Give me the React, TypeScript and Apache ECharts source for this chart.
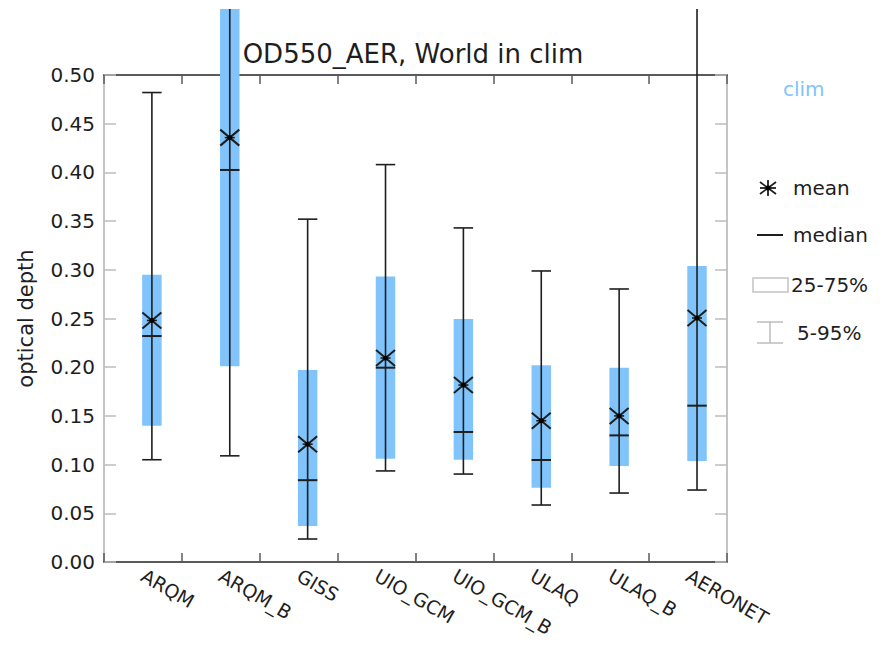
import React, { useEffect, useRef } from "react";
import * as echarts from "echarts";

const categories = ["ARQM", "ARQM_B", "GISS", "UIO_GCM", "UIO_GCM_B", "ULAQ", "ULAQ_B", "AERONET"];
const p5 = [0.105, 0.109, 0.0236, 0.0935, 0.0903, 0.0585, 0.0708, 0.0739];
const p25 = [0.14, 0.201, 0.037, 0.106, 0.105, 0.0763, 0.0986, 0.1037];
const median = [0.232, 0.4025, 0.084, 0.1995, 0.1335, 0.1047, 0.13, 0.1605];
const p75 = [0.295, 0.6, 0.197, 0.293, 0.2495, 0.202, 0.1995, 0.304];
const p95 = [0.482, 0.65, 0.352, 0.408, 0.343, 0.2988, 0.2803, 0.65];
const mean = [0.248, 0.4357, 0.121, 0.2094, 0.1817, 0.145, 0.15, 0.2505];
const yTicks = [0, 0.05, 0.1, 0.15, 0.2, 0.25, 0.3, 0.35, 0.4, 0.45, 0.5];

const BLUE = "#80c4fb";
const DARK = "#1e1e1e";
const FONT = "DejaVu Sans";

export default function App() {
  const ref = useRef<HTMLDivElement>(null);
  useEffect(() => {
    if (!ref.current) return;
    const chart = echarts.init(ref.current, null, { renderer: "svg" });
    const data = categories.map((c, i) => [i, p5[i], p25[i], median[i], p75[i], p95[i], mean[i]]);

    const renderItem = (params: any, api: any) => {
      const i = api.value(0);
      const bw = api.size([1, 0])[0];
      const x = api.coord([i, 0])[0] + bw * 0.115;
      const hw = bw * 0.125;
      const y = (k: number) => api.coord([i, api.value(k)])[1];
      const y5 = y(1), y25 = y(2), ymed = y(3), y75 = y(4), y95 = y(5), ymean = y(6);
      const ln = { stroke: DARK, lineWidth: 1.6 };
      const sx = 9.5, sy = 8;
      return {
        type: "group",
        children: [
          { type: "rect", shape: { x: x - hw, y: y75, width: hw * 2, height: y25 - y75 }, style: { fill: BLUE } },
          { type: "line", shape: { x1: x, y1: y95, x2: x, y2: y5 }, style: ln },
          { type: "line", shape: { x1: x - hw, y1: y95, x2: x + hw, y2: y95 }, style: ln },
          { type: "line", shape: { x1: x - hw, y1: y5, x2: x + hw, y2: y5 }, style: ln },
          { type: "line", shape: { x1: x - hw, y1: ymed, x2: x + hw, y2: ymed }, style: { stroke: DARK, lineWidth: 2 } },
          { type: "line", shape: { x1: x - sx, y1: ymean - sy, x2: x + sx, y2: ymean + sy }, style: { stroke: DARK, lineWidth: 2 } },
          { type: "line", shape: { x1: x - sx, y1: ymean + sy, x2: x + sx, y2: ymean - sy }, style: { stroke: DARK, lineWidth: 2 } },
          { type: "line", shape: { x1: x - 5, y1: ymean, x2: x + 5, y2: ymean }, style: ln },
          { type: "circle", shape: { cx: x, cy: ymean, r: 2.5 }, style: { fill: "#000" } },
        ],
      };
    };

    const star = (cx: number, cy: number) => [
      { type: "line", shape: { x1: cx - 8, y1: cy - 6, x2: cx + 8, y2: cy + 6 }, style: { stroke: DARK, lineWidth: 1.8 } },
      { type: "line", shape: { x1: cx - 8, y1: cy + 6, x2: cx + 8, y2: cy - 6 }, style: { stroke: DARK, lineWidth: 1.8 } },
      { type: "line", shape: { x1: cx - 8, y1: cy, x2: cx + 8, y2: cy }, style: { stroke: DARK, lineWidth: 1.8 } },
      { type: "line", shape: { x1: cx, y1: cy - 8, x2: cx, y2: cy + 8 }, style: { stroke: DARK, lineWidth: 1.8 } },
      { type: "circle", shape: { cx, cy, r: 2.5 }, style: { fill: "#000" } },
    ];
    const legText = (text: string, x: number, y: number, fill = DARK) => ({
      type: "text",
      x,
      y,
      style: { text, fill, font: `20px "${FONT}"`, textAlign: "left", textVerticalAlign: "middle" },
    });
    const grayLn = { stroke: "#bdbdbd", lineWidth: 1.5 };
    const tickGray = { color: "#bdbdbd", width: 1.5 };
    const tickDark = { color: "#5a5a5a", width: 1.5 };

    chart.setOption({
      animation: false,
      backgroundColor: "#fff",
      grid: { left: 104, right: 160, top: 75, bottom: 95 },
      xAxis: [
        {
          type: "category",
          data: categories,
          position: "bottom",
          axisLine: { show: true, onZero: false, lineStyle: { color: "#5a5a5a", width: 2 } },
          axisTick: { show: true, inside: true, length: 9, interval: 0, lineStyle: tickDark },
          axisLabel: { rotate: -30, fontSize: 19, color: DARK, fontFamily: FONT, margin: 12, interval: 0 },
        },
        {
          type: "category",
          data: categories,
          position: "top",
          axisLine: { show: true, onZero: false, lineStyle: { color: "#5a5a5a", width: 2 } },
          axisTick: { show: true, inside: true, length: 9, interval: 0, lineStyle: tickDark },
          axisLabel: { show: false },
        },
      ],
      yAxis: [
        {
          type: "value",
          min: 0,
          max: 0.5,
          interval: 0.05,
          position: "left",
          name: "optical depth",
          nameLocation: "middle",
          nameGap: 68,
          nameTextStyle: { fontSize: 21, color: DARK, fontFamily: FONT },
          axisLine: { show: true, onZero: false, lineStyle: { color: "#c4c4c4", width: 2 } },
          axisTick: { show: true, inside: true, length: 12, lineStyle: tickGray },
          axisLabel: {
            fontSize: 20,
            color: DARK,
            fontFamily: FONT,
            margin: 9,
            formatter: (v: number) => (yTicks.some((t) => Math.abs(t - v) < 1e-9) ? v.toFixed(2) : ""),
          },
          splitLine: { show: false },
        },
        {
          type: "value",
          min: 0,
          max: 0.5,
          interval: 0.05,
          position: "right",
          axisLine: { show: true, onZero: false, lineStyle: { color: "#c4c4c4", width: 2 } },
          axisTick: { show: true, inside: true, length: 12, lineStyle: tickGray },
          axisLabel: { show: false },
          splitLine: { show: false },
        },
      ],
      series: [
        {
          type: "custom",
          renderItem,
          data,
          clip: false,
          encode: { x: 0, y: [1, 2, 3, 4, 5, 6] },
          z: 5,
        },
      ],
      graphic: [
        { type: "rect", shape: { x: 0, y: 0, width: 887, height: 9 }, style: { fill: "#fff" }, z: 100 },
        {
          type: "text",
          x: 413,
          y: 54,
          z: 101,
          style: {
            text: "OD550_AER, World in clim",
            fill: DARK,
            font: `26px "${FONT}"`,
            textAlign: "center",
            textVerticalAlign: "middle",
          },
        },
        legText("clim", 783, 89, BLUE),
        ...star(768, 188),
        legText("mean", 793, 188),
        { type: "line", shape: { x1: 757, y1: 235, x2: 783, y2: 235 }, style: { stroke: DARK, lineWidth: 2 } },
        legText("median", 793, 235),
        { type: "rect", shape: { x: 753, y: 278, width: 35, height: 14 }, style: { fill: "none", stroke: "#c4c4c4", lineWidth: 1.5 } },
        legText("25-75%", 791, 285),
        { type: "line", shape: { x1: 770, y1: 322, x2: 770, y2: 343 }, style: grayLn },
        { type: "line", shape: { x1: 757, y1: 322, x2: 783, y2: 322 }, style: grayLn },
        { type: "line", shape: { x1: 757, y1: 343, x2: 783, y2: 343 }, style: grayLn },
        legText("5-95%", 797, 333),
      ],
    });
    return () => chart.dispose();
  }, []);
  return <div ref={ref} style={{ position: "absolute", left: 0, top: 0, width: 887, height: 657 }} />;
}
